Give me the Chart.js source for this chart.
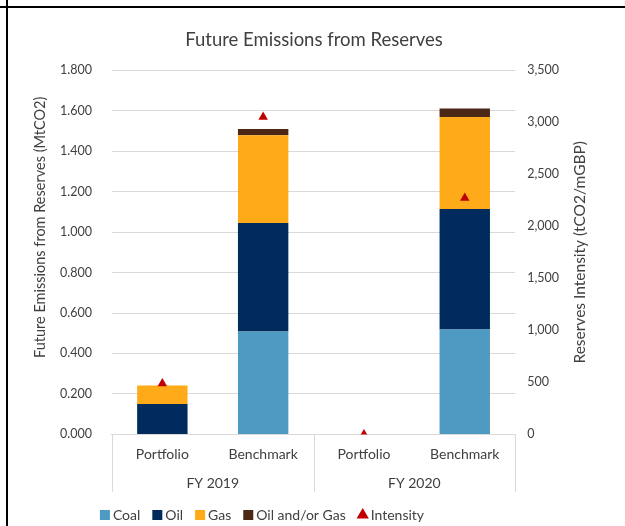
<!DOCTYPE html>
<html>
<head>
<meta charset="utf-8">
<script src="https://cdn.jsdelivr.net/npm/chart.js@4"></script>
<style>
  body { margin: 0; background: #fff; }
  #wrap { position: absolute; left: 0; top: 0; width: 625px; height: 526px; }
  .hline { position: absolute; left: 0; top: 6px; width: 625px; height: 2px; background: #000; }
  .vline { position: absolute; left: 6px; top: 0; width: 2px; height: 526px; background: #000; }
</style>
</head>
<body>
<div id="wrap"><canvas id="chart"></canvas></div>
<div class="hline"></div>
<div class="vline"></div>
<script>
// --- Data ---
const categories = ["Portfolio", "Benchmark", "Portfolio", "Benchmark"];
const groups = ["FY 2019", "FY 2020"];
const coal = [0, 0.509, 0, 0.519];
const oil = [0.150, 0.536, 0, 0.595];
const gas = [0.092, 0.434, 0, 0.455];
const oilOrGas = [0, 0.030, 0, 0.042];
const intensity = [490, 3050, 0, 2272];

const leftTitle = "Future Emissions from Reserves (MtCO2)";
const rightTitle = "Reserves Intensity (tCO2/mGBP)";

const textColor = "#404040";
const gridColor = "#d9d9d9";
const fontFamily = "Lato, 'Noto Sans', sans-serif";
const leftTitleSize = 14.5, rightTitleSize = 15.5;
const leftTitlePad = { top: 11.3, bottom: 11.3 };
const rightTitlePad = { top: 18.7, bottom: 11.7 };

// chart.js counts tick padding on both sides of the labels; keep it on one side only
const singlePad = s => {
  if (s.isHorizontal()) s.height -= s.options.ticks.padding;
  else s.width -= s.options.ticks.padding;
};

// --- Divider lines for the grouped category axis ---
const groupDividers = {
  id: "groupDividers",
  afterDraw(chart) {
    const x = chart.scales.x;
    const g = chart.scales.xGroup;
    const ctx = chart.ctx;
    const mid = (x.getPixelForValue(1) + x.getPixelForValue(2)) / 2;
    ctx.save();
    ctx.strokeStyle = gridColor;
    ctx.lineWidth = 1;
    [x.left, mid, x.right].forEach(px => {
      const xx = Math.round(px) + 0.5;
      ctx.beginPath();
      ctx.moveTo(xx, chart.chartArea.bottom);
      ctx.lineTo(xx, g.bottom);
      ctx.stroke();
    });
    ctx.restore();
  }
};

// --- Axis titles, both reading bottom to top ---
const axisTitles = {
  id: "axisTitles",
  afterDraw(chart) {
    const { ctx, chartArea, scales } = chart;
    const midY = (chartArea.top + chartArea.bottom) / 2;
    const draw = (text, size, cx, cy) => {
      ctx.save();
      ctx.translate(cx, cy);
      ctx.rotate(-Math.PI / 2);
      ctx.font = size + "px " + fontFamily;
      ctx.fillStyle = textColor;
      ctx.textAlign = "center";
      ctx.textBaseline = "middle";
      ctx.fillText(text, 0, 0);
      ctx.restore();
    };
    draw(leftTitle, leftTitleSize, scales.y.left + leftTitlePad.top + leftTitleSize * 0.6, midY - 25);
    draw(rightTitle, rightTitleSize, scales.y1.right - rightTitlePad.top - rightTitleSize * 0.6, midY);
  }
};

// --- Legend sits left of centre in the original ---
const legendShift = {
  id: "legendShift",
  afterLayout(chart) {
    chart.legend.left -= 50;
    chart.legend.right -= 50;
  }
};

const barBase = { categoryPercentage: 1, barPercentage: 0.5, borderWidth: 0, yAxisID: "y", xAxisID: "x", pointStyle: "rect" };

new Chart(document.getElementById("chart"), {
  type: "bar",
  data: {
    labels: categories,
    datasets: [
      { ...barBase, label: "Coal", data: coal, backgroundColor: "#4f9ac3", order: 2 },
      { ...barBase, label: "Oil", data: oil, backgroundColor: "#002b5c", order: 2 },
      { ...barBase, label: "Gas", data: gas, backgroundColor: "#ffab19", order: 2 },
      { ...barBase, label: "Oil and/or Gas", data: oilOrGas, backgroundColor: "#4b2716", order: 2 },
      {
        type: "line", label: "Intensity", data: intensity, yAxisID: "y1", xAxisID: "x",
        showLine: false, pointStyle: "triangle", pointRadius: 5.5, pointHoverRadius: 5.5,
        backgroundColor: "#c00000", borderColor: "#c00000", borderWidth: 0, order: 1
      }
    ]
  },
  options: {
    responsive: true,
    maintainAspectRatio: false,
    animation: false,
    layout: { padding: { left: 20, right: 17, top: 12, bottom: -6 } },
    plugins: {
      title: {
        display: true, text: "Future Emissions from Reserves", color: textColor,
        font: { family: fontFamily, size: 18.5, weight: "normal" }, padding: { top: 17, bottom: 19 }
      },
      legend: {
        position: "bottom",
        labels: {
          usePointStyle: true, boxHeight: 10, boxWidth: 2, padding: 16, color: textColor,
          font: { family: fontFamily, size: 14 },
          sort: (a, b) => a.datasetIndex - b.datasetIndex
        }
      },
      tooltip: { enabled: false }
    },
    scales: {
      x: {
        stacked: true,
        grid: { display: false, drawTicks: false },
        border: { display: true, color: gridColor },
        ticks: { color: textColor, font: { family: fontFamily, size: 14 }, padding: 12 },
        afterFit: singlePad
      },
      xGroup: {
        type: "category",
        labels: groups,
        position: "bottom",
        grid: { display: false, drawTicks: false },
        border: { display: false },
        ticks: { color: textColor, font: { family: fontFamily, size: 14 }, padding: 12 },
        afterFit: singlePad
      },
      y: {
        stacked: true, min: 0, max: 1.8,
        grid: { color: gridColor, drawTicks: false },
        border: { display: false },
        ticks: {
          stepSize: 0.2, padding: 20, color: textColor,
          font: { family: fontFamily, size: 12.5 },
          callback: v => v.toFixed(3)
        },
        title: {
          display: true, text: leftTitle, color: "rgba(0,0,0,0)",
          font: { family: fontFamily, size: leftTitleSize }, padding: leftTitlePad
        },
        afterFit: singlePad
      },
      y1: {
        position: "right", min: 0, max: 3500,
        grid: { display: false, drawTicks: false },
        border: { display: false },
        ticks: {
          stepSize: 500, padding: 12, color: textColor,
          font: { family: fontFamily, size: 12.5 },
          callback: v => v.toLocaleString("en-US")
        },
        title: {
          display: true, text: rightTitle, color: "rgba(0,0,0,0)",
          font: { family: fontFamily, size: rightTitleSize }, padding: rightTitlePad
        },
        afterFit: singlePad
      }
    }
  },
  plugins: [groupDividers, axisTitles, legendShift]
});
</script>
</body>
</html>
